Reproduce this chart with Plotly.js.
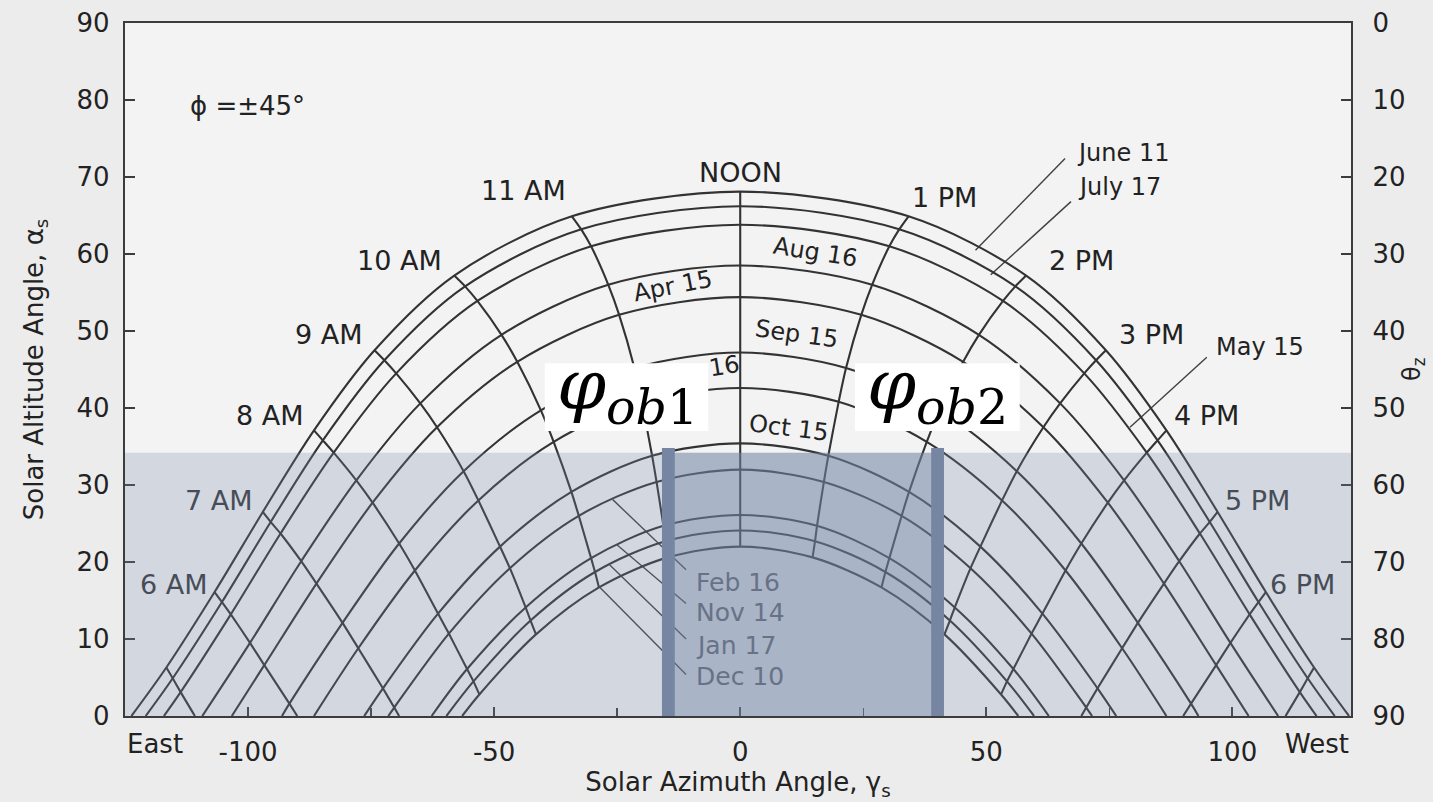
<!DOCTYPE html>
<html><head><meta charset="utf-8">
<script src="https://cdn.plot.ly/plotly-3.0.1.min.js"></script>
<style>html,body{margin:0;padding:0;background:#ededed;}#chart{width:1433px;height:802px;}</style>
</head><body><div id="chart"></div>
<script>
// Sun-path chart for latitude 45 deg.
// Column k of each date array = k hours from solar noon (0..7).
const hourOffsets = [0, 1, 2, 3, 4, 5, 6, 7];
const dateNames = ['June 11','July 17','May 15','Aug 16','Apr 15','Sep 15','Mar 16','Oct 15','Feb 16','Nov 14','Jan 17','Dec 10'];

// Solar altitude (deg); null = sun below horizon
const altJun11 = [68.1, 64.9, 57.2, 47.5, 37.1, 26.5, 16.1, 6.3];
const altJul17 = [66.2, 63.2, 55.8, 46.2, 35.8, 25.2, 14.8, 4.9];
const altMay15 = [63.8, 61.0, 53.9, 44.5, 34.2, 23.7, 13.2, 3.1];
const altAug16 = [58.5, 56.0, 49.5, 40.6, 30.6, 20.1, 9.5, null];
const altApr15 = [54.4, 52.1, 46.0, 37.5, 27.7, 17.2, 6.6, null];
const altSep15 = [47.2, 45.2, 39.7, 31.8, 22.4, 12.1, 1.6, null];
const altMar16 = [42.6, 40.8, 35.6, 28.0, 18.9, 8.8, null, null];
const altOct15 = [35.4, 33.8, 29.1, 22.0, 13.3, 3.6, null, null];
const altFeb16 = [32.0, 30.4, 26.0, 19.2, 10.7, 1.1, null, null];
const altNov14 = [26.1, 24.7, 20.5, 14.1, 6.1, null, null, null];
const altJan17 = [24.1, 22.7, 18.7, 12.4, 4.5, null, null, null];
const altDec10 = [22.0, 20.6, 16.7, 10.6, 2.8, null, null, null];

// Solar azimuth magnitude (deg from south) at the same hours (morning = East, afternoon = West)
const azJun11 = [0, 34.2, 58.1, 74.3, 86.6, 97.0, 106.8, 116.6];
const azJul17 = [0, 32.3, 55.9, 72.3, 84.8, 95.4, 105.3, 115.3];
const azMay15 = [0, 30.3, 53.4, 69.9, 82.6, 93.4, 103.5, 113.7];
const azAug16 = [0, 26.8, 48.5, 65.0, 78.0, 89.2, 99.6, null];
const azApr15 = [0, 24.6, 45.3, 61.6, 74.7, 86.1, 96.7, null];
const azSep15 = [0, 21.5, 40.5, 56.2, 69.3, 80.8, 91.6, null];
const azMar16 = [0, 20.0, 37.9, 53.2, 66.1, 77.6, null, null];
const azOct15 = [0, 17.9, 34.3, 48.8, 61.4, 72.6, null, null];
const azFeb16 = [0, 17.0, 32.8, 46.8, 59.2, 70.3, null, null];
const azNov14 = [0, 15.6, 30.3, 43.6, 55.5, null, null, null];
const azJan17 = [0, 15.2, 29.5, 42.6, 54.2, null, null, null];
const azDec10 = [0, 14.7, 28.7, 41.5, 53.0, null, null, null];

// Azimuth magnitude of sunrise / sunset for each date
const sunriseAz = [123.7, 120.8, 117.1, 109.3, 103.3, 93.1, 86.6, 76.4, 71.5, 62.7, 59.7, 56.5];
// Hour lines that run down to the horizon, and the azimuth where they meet it
const horizonHourOffsets = [5, 6, 7];
const horizonHourAz = [69.3, 90.0, 110.8];

// Axis ticks
const xTickVals = [-100, -50, 0, 50, 100];
const xTickText = ['-100', '-50', '0', '50', '100'];
const xMinorVals = [-75, -25, 25, 75];
const yTickVals = [0, 10, 20, 30, 40, 50, 60, 70, 80, 90];

// Labels
const morningLabels = ['NOON', '11 AM', '10 AM', '9 AM', '8 AM', '7 AM', '6 AM'];
const afternoonLabels = ['NOON', '1 PM', '2 PM', '3 PM', '4 PM', '5 PM', '6 PM'];

const rowsAlt = [altJun11, altJul17, altMay15, altAug16, altApr15, altSep15, altMar16, altOct15, altFeb16, altNov14, altJan17, altDec10];
const rowsAz = [azJun11, azJul17, azMay15, azAug16, azApr15, azSep15, azMar16, azOct15, azFeb16, azNov14, azJan17, azDec10];

const INK = '#333333';
const traces = [];
// date curves
rowsAlt.forEach((alt, i) => {
  const az = rowsAz[i];
  const xs = [-sunriseAz[i]], ys = [0];
  for (let k = hourOffsets.length - 1; k >= 1; k--) if (alt[k] != null) { xs.push(-az[k]); ys.push(alt[k]); }
  xs.push(az[0]); ys.push(alt[0]);
  for (let k = 1; k < hourOffsets.length; k++) if (alt[k] != null) { xs.push(az[k]); ys.push(alt[k]); }
  xs.push(sunriseAz[i]); ys.push(0);
  traces.push({type:'scatter', mode:'lines', x:xs, y:ys, name:dateNames[i],
    line:{color:INK, width:2.1, shape:'spline', smoothing:0.9}, hoverinfo:'skip', showlegend:false});
});
// hour lines
hourOffsets.forEach(k => {
  (k === 0 ? [1] : [-1, 1]).forEach(s => {
    const xs = [], ys = [];
    rowsAlt.forEach((alt, i) => { if (alt[k] != null) { xs.push(s * rowsAz[i][k]); ys.push(alt[k]); } });
    const hi = horizonHourOffsets.indexOf(k);
    if (hi >= 0) { xs.push(s * horizonHourAz[hi]); ys.push(0); }
    traces.push({type:'scatter', mode:'lines', x:xs, y:ys,
      line:{color:INK, width:2.1, shape:'spline', smoothing:0.6}, hoverinfo:'skip', showlegend:false});
  });
});
// carrier for the right-hand zenith axis
traces.push({type:'scatter', mode:'lines', x:[0], y:[null], yaxis:'y2', hoverinfo:'skip', showlegend:false});

const TXT = '#222222', TINT = '#474d58', DARKTINT = '#687286';
const ann = [];
function lab(text, x, y, o) {
  o = o || {};
  ann.push(Object.assign({text:text, x:x, y:y, xref:'x', yref:'y', showarrow:false,
    xanchor:'center', yanchor:'middle', font:{size:o.size || 27, color:o.color || TXT, family:'DejaVu Sans'}}, o.extra || {}));
}
// hour labels
const hourLabelPos = [[0,70.6],[44.1,68.3],[69.3,59.1],[83.5,49.5],[95.5,39.0],[106,28.0],[115,17.1]];
hourLabelPos.forEach((p, k) => {
  const c = p[1] < 34 ? TINT : TXT;
  if (k === 0) { lab(morningLabels[0], 0, p[1]); return; }
  lab(morningLabels[k], -p[0], p[1], {color:c});
  lab(afternoonLabels[k], p[0] - (k===1?2.5:0) + (k>=4?-0.8:0), p[1] - (k===1?1:0), {color:c});
});
// date labels
lab('June 11', 77.8, 73.1, {size:24});
lab('July 17', 77.0, 68.7, {size:24});
lab('May 15', 105.6, 47.9, {size:24});
lab('Aug 16', 15.2, 60.3, {size:24, extra:{textangle:9}});
lab('Apr 15', -13.7, 55.8, {size:24, extra:{textangle:-11}});
lab('Sep 15', 11.5, 49.6, {size:24, extra:{textangle:8}});
lab('16', -3.1, 45.4, {size:24, extra:{textangle:-9}});   // "Mar 16", mostly hidden behind the phi_ob1 box
lab('Oct 15', 9.9, 37.4, {size:24, extra:{textangle:7}});
['Feb 16','Nov 14','Jan 17','Dec 10'].forEach((t, j) => lab(t, -9.4, [17.4, 13.4, 9.2, 5.1][j], {size:25, color:DARKTINT, extra:{xanchor:'left'}}));
lab('\u03D5 =\u00B145\u00B0', -100.2, 79.2, {size:26});
// phi_ob labels
const phiFont = {family:'DejaVu Serif', size:70, color:'#000'};
ann.push({text:'<i>\u03C6</i><sub><i>ob</i>1</sub>', x:-23.0, y:42.3, xref:'x', yref:'y', showarrow:false, xanchor:'center', yanchor:'middle', font:phiFont});
ann.push({text:'<i>\u03C6</i><sub><i>ob</i>2</sub>', x:40.1, y:42.3, xref:'x', yref:'y', showarrow:false, xanchor:'center', yanchor:'middle', font:phiFont});
// East / West and theta_z
ann.push({text:'East', x:0, y:-0.041, xref:'paper', yref:'paper', xanchor:'left', yanchor:'middle', showarrow:false, font:{size:26, color:TXT}});
ann.push({text:'West', x:1, y:-0.041, xref:'paper', yref:'paper', xanchor:'right', yanchor:'middle', showarrow:false, font:{size:26, color:TXT}});
ann.push({text:'\u03B8<sub>z</sub>', x:1.051, y:0.5, xref:'paper', yref:'paper', xanchor:'center', yanchor:'middle', textangle:-90, showarrow:false, font:{size:24, color:TXT}});

const shapes = [];
function seg(x0, y0, x1, y1) { shapes.push({type:'line', xref:'x', yref:'y', x0:x0, y0:y0, x1:x1, y1:y1, layer:'below', line:{color:'#404040', width:1.4}}); }
seg(47.8, 60.5, 66.0, 72.4);
seg(50.9, 57.3, 67.2, 66.8);
seg(79.2, 37.5, 94.8, 46.6);
seg(-25.9, 28.1, -11.0, 19.0);
seg(-25.0, 22.2, -11.0, 14.6);
seg(-26.5, 19.6, -11.0, 10.0);
seg(-28.5, 16.7, -11.0, 5.4);
// white boxes behind phi labels
shapes.push({type:'rect', xref:'x', yref:'y', x0:-39.7, x1:-6.5, y0:37.0, y1:45.8, fillcolor:'#ffffff', line:{width:0}, layer:'above'});
shapes.push({type:'rect', xref:'x', yref:'y', x0:23.3, x1:56.8, y0:37.0, y1:45.8, fillcolor:'#ffffff', line:{width:0}, layer:'above'});
// translucent overlays
shapes.push({type:'rect', xref:'paper', yref:'y', x0:0, x1:1, y0:0, y1:34.2, fillcolor:'rgba(120,138,170,0.26)', line:{width:0}, layer:'above'});
shapes.push({type:'rect', xref:'x', yref:'y', x0:-15.3, x1:41.2, y0:0, y1:34.2, fillcolor:'rgba(110,128,160,0.41)', line:{width:0}, layer:'above'});
shapes.push({type:'rect', xref:'x', yref:'y', x0:-15.9, x1:-13.3, y0:0, y1:34.8, fillcolor:'#7686a2', line:{width:0}, layer:'above'});
shapes.push({type:'rect', xref:'x', yref:'y', x0:38.8, x1:41.4, y0:0, y1:34.8, fillcolor:'#7686a2', line:{width:0}, layer:'above'});

const axLine = '#3c3c3c';
const layout = {
  width:1433, height:802,
  margin:{l:125, r:82, t:23, b:86, pad:0},
  paper_bgcolor:'#ececec', plot_bgcolor:'#f3f3f3',
  font:{family:'DejaVu Sans', color:TXT, size:26},
  showlegend:false,
  xaxis:{range:[-125, 124.1], tickmode:'array', tickvals:xTickVals, ticktext:xTickText,
    ticks:'inside', ticklen:9, tickwidth:2, tickcolor:axLine,
    minor:{tickvals:xMinorVals, ticks:'inside', ticklen:8, tickwidth:1.5, tickcolor:axLine},
    showline:true, linecolor:axLine, linewidth:2.2, mirror:true, showgrid:false, zeroline:false,
    tickfont:{size:26, color:TXT}, ticklabelstandoff:12,
    title:{text:'Solar Azimuth Angle, \u03B3<sub>s</sub>', font:{size:26, color:TXT}, standoff:4}},
  yaxis:{range:[0, 90], tickmode:'array', tickvals:yTickVals,
    ticks:'inside', ticklen:10, tickwidth:2, tickcolor:axLine,
    showline:true, linecolor:axLine, linewidth:2.2, showgrid:false, zeroline:false,
    tickfont:{size:26, color:TXT}, ticklabelstandoff:8,
    title:{text:'Solar Altitude Angle, \u03B1<sub>s</sub>', font:{size:26, color:TXT}, standoff:26}},
  yaxis2:{overlaying:'y', side:'right', range:[90, 0], tickmode:'array', tickvals:yTickVals,
    ticks:'inside', ticklen:10, tickwidth:2, tickcolor:axLine,
    showline:true, linecolor:axLine, linewidth:2.2, showgrid:false, zeroline:false,
    tickfont:{size:26, color:TXT}, ticklabelstandoff:14},
  shapes:shapes, annotations:ann
};
Plotly.newPlot('chart', traces, layout, {staticPlot:true, displayModeBar:false});
</script></body></html>
